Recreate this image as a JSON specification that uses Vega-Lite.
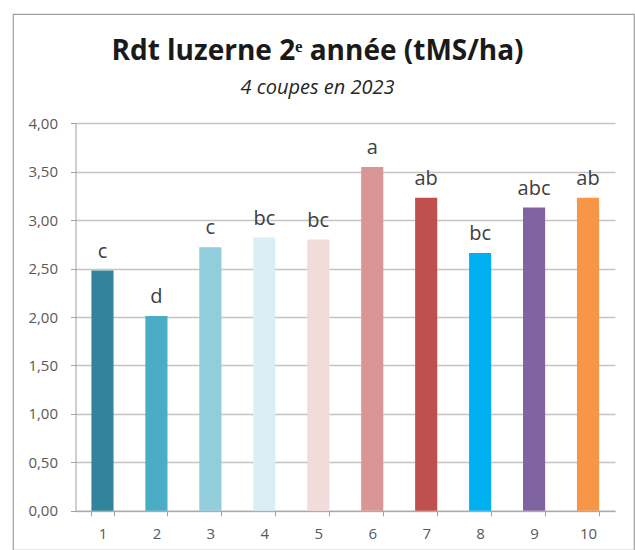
{
  "$schema": "https://vega.github.io/schema/vega-lite/v6.json",
  "width": 621,
  "height": 536,
  "autosize": {"type": "none"},
  "padding": {"left": 13, "top": 14, "right": 1, "bottom": 0},
  "background": "white",
  "title": {
    "text": "Rdt luzerne 2ᵉ année (tMS/ha)",
    "subtitle": "4 coupes en 2023",
    "anchor": "middle",
    "frame": "group",
    "orient": "top",
    "offset": -83.5,
    "dx": -6,
    "font": "Open Sans",
    "fontSize": 28,
    "fontWeight": "bold",
    "color": "#1a1a1a",
    "subtitleFont": "Open Sans",
    "subtitleFontSize": 20,
    "subtitleFontStyle": "italic",
    "subtitleColor": "#262626",
    "subtitlePadding": 12
  },
  "data": {
    "values": [
      {"traitement": 1, "rendement": 2.48, "groupe": "c"},
      {"traitement": 2, "rendement": 2.01, "groupe": "d"},
      {"traitement": 3, "rendement": 2.72, "groupe": "c"},
      {"traitement": 4, "rendement": 2.82, "groupe": "bc"},
      {"traitement": 5, "rendement": 2.80, "groupe": "bc"},
      {"traitement": 6, "rendement": 3.55, "groupe": "a"},
      {"traitement": 7, "rendement": 3.23, "groupe": "ab"},
      {"traitement": 8, "rendement": 2.66, "groupe": "bc"},
      {"traitement": 9, "rendement": 3.13, "groupe": "abc"},
      {"traitement": 10, "rendement": 3.23, "groupe": "ab"}
    ]
  },
  "encoding": {
    "x": {
      "field": "traitement",
      "type": "ordinal",
      "scale": {"range": [62.5, 602], "paddingInner": 0.59, "paddingOuter": 0.295},
      "axis": {
        "title": null,
        "labelAngle": 0,
        "tickBand": "extent",
        "tickSize": 5,
        "tickColor": "#a0a0a0",
        "domainColor": "#a0a0a0",
        "labelFont": "Open Sans",
        "labelFontSize": 15,
        "labelColor": "#595959",
        "labelPadding": 11,
        "offset": -39.3,
        "grid": false
      }
    },
    "y": {
      "field": "rendement",
      "type": "quantitative",
      "scale": {"domain": [0, 4], "range": [496.7, 109.3], "nice": false},
      "axis": {
        "title": null,
        "values": [0, 0.5, 1, 1.5, 2, 2.5, 3, 3.5, 4],
        "labelExpr": "replace(format(datum.value, '.2f'), '.', ',')",
        "grid": true,
        "gridColor": "#c4c4c4",
        "gridWidth": 1.5,
        "tickSize": 5,
        "tickColor": "#a0a0a0",
        "domainColor": "#a0a0a0",
        "labelFont": "Open Sans",
        "labelFontSize": 15,
        "labelColor": "#595959",
        "labelPadding": 13,
        "offset": -62.5
      }
    }
  },
  "layer": [
    {
      "mark": {"type": "bar"},
      "encoding": {
        "color": {
          "field": "traitement",
          "type": "nominal",
          "scale": {
            "domain": [1, 2, 3, 4, 5, 6, 7, 8, 9, 10],
            "range": ["#31849B", "#4BACC6", "#92CDDC", "#DAEEF3", "#F2DCDB", "#D99694", "#C0504D", "#00B0F0", "#8064A2", "#F79646"]
          },
          "legend": null
        }
      }
    },
    {
      "mark": {"type": "text", "baseline": "alphabetic", "dy": -13, "font": "Open Sans", "fontSize": 20, "color": "#404040"},
      "encoding": {"text": {"field": "groupe"}}
    }
  ],
  "config": {"view": {"stroke": "#a0a0a0", "strokeWidth": 1.2}}
}
